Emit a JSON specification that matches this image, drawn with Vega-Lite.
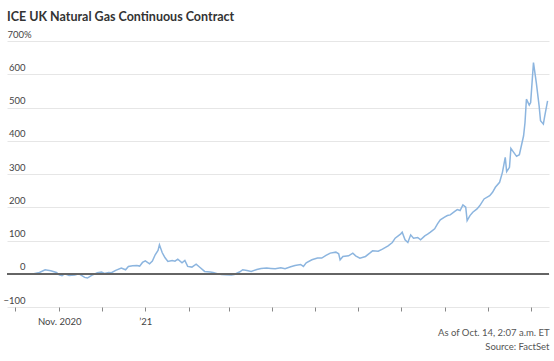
{
  "$schema": "https://vega.github.io/schema/vega-lite/v6.json",
  "autosize": {"type": "none"},
  "width": 542,
  "height": 266,
  "padding": {"left": 7, "top": 41, "right": 5, "bottom": 54},
  "background": "white",
  "config": {"font": "Lato", "view": {"stroke": null}, "axis": {"labelOverlap": false, "labelFlush": false}},
  "title": {"text": "ICE UK Natural Gas Continuous Contract", "anchor": "start", "frame": "group", "font": "Lato", "fontSize": 12.5, "fontWeight": "bold", "color": "#333333", "offset": 6},
  "data": {"values": [
    {"date": "2020-10-14", "pct": 0},
    {"date": "2020-10-18", "pct": 4},
    {"date": "2020-10-22", "pct": 12},
    {"date": "2020-10-26", "pct": 9},
    {"date": "2020-10-30", "pct": 4},
    {"date": "2020-11-01", "pct": -3},
    {"date": "2020-11-03", "pct": -6},
    {"date": "2020-11-05", "pct": 0},
    {"date": "2020-11-08", "pct": -5},
    {"date": "2020-11-12", "pct": -4},
    {"date": "2020-11-15", "pct": 0},
    {"date": "2020-11-19", "pct": -11},
    {"date": "2020-11-21", "pct": -13},
    {"date": "2020-11-24", "pct": -5},
    {"date": "2020-11-28", "pct": 3},
    {"date": "2020-12-01", "pct": 5},
    {"date": "2020-12-03", "pct": 1},
    {"date": "2020-12-06", "pct": 4},
    {"date": "2020-12-08", "pct": 3},
    {"date": "2020-12-11", "pct": 10},
    {"date": "2020-12-15", "pct": 17},
    {"date": "2020-12-18", "pct": 12},
    {"date": "2020-12-20", "pct": 22},
    {"date": "2020-12-23", "pct": 24},
    {"date": "2020-12-26", "pct": 25},
    {"date": "2020-12-28", "pct": 23},
    {"date": "2020-12-30", "pct": 34},
    {"date": "2021-01-01", "pct": 39},
    {"date": "2021-01-04", "pct": 30},
    {"date": "2021-01-06", "pct": 38},
    {"date": "2021-01-08", "pct": 57},
    {"date": "2021-01-10", "pct": 70},
    {"date": "2021-01-11", "pct": 87},
    {"date": "2021-01-13", "pct": 63},
    {"date": "2021-01-15", "pct": 48},
    {"date": "2021-01-17", "pct": 37},
    {"date": "2021-01-20", "pct": 40},
    {"date": "2021-01-22", "pct": 38},
    {"date": "2021-01-24", "pct": 44},
    {"date": "2021-01-27", "pct": 33},
    {"date": "2021-01-29", "pct": 40},
    {"date": "2021-01-31", "pct": 22},
    {"date": "2021-02-03", "pct": 20},
    {"date": "2021-02-06", "pct": 29},
    {"date": "2021-02-09", "pct": 18},
    {"date": "2021-02-12", "pct": 7},
    {"date": "2021-02-16", "pct": 5},
    {"date": "2021-02-18", "pct": 4},
    {"date": "2021-02-21", "pct": 0},
    {"date": "2021-02-24", "pct": -2},
    {"date": "2021-02-27", "pct": -3},
    {"date": "2021-03-03", "pct": -4},
    {"date": "2021-03-05", "pct": -2},
    {"date": "2021-03-09", "pct": 6},
    {"date": "2021-03-11", "pct": 12},
    {"date": "2021-03-14", "pct": 10},
    {"date": "2021-03-17", "pct": 7},
    {"date": "2021-03-21", "pct": 13},
    {"date": "2021-03-24", "pct": 16},
    {"date": "2021-03-28", "pct": 17},
    {"date": "2021-03-31", "pct": 16},
    {"date": "2021-04-03", "pct": 15},
    {"date": "2021-04-07", "pct": 18},
    {"date": "2021-04-10", "pct": 15},
    {"date": "2021-04-14", "pct": 21},
    {"date": "2021-04-17", "pct": 25},
    {"date": "2021-04-21", "pct": 28},
    {"date": "2021-04-23", "pct": 22},
    {"date": "2021-04-25", "pct": 33},
    {"date": "2021-04-29", "pct": 42},
    {"date": "2021-05-03", "pct": 47},
    {"date": "2021-05-06", "pct": 47},
    {"date": "2021-05-09", "pct": 55},
    {"date": "2021-05-12", "pct": 62},
    {"date": "2021-05-16", "pct": 65},
    {"date": "2021-05-18", "pct": 60},
    {"date": "2021-05-19", "pct": 42},
    {"date": "2021-05-21", "pct": 52},
    {"date": "2021-05-25", "pct": 54},
    {"date": "2021-05-28", "pct": 62},
    {"date": "2021-05-30", "pct": 54},
    {"date": "2021-06-02", "pct": 47},
    {"date": "2021-06-06", "pct": 52},
    {"date": "2021-06-09", "pct": 62},
    {"date": "2021-06-11", "pct": 69},
    {"date": "2021-06-15", "pct": 68},
    {"date": "2021-06-18", "pct": 74},
    {"date": "2021-06-22", "pct": 84},
    {"date": "2021-06-25", "pct": 94},
    {"date": "2021-06-27", "pct": 107},
    {"date": "2021-07-01", "pct": 120},
    {"date": "2021-07-02", "pct": 125},
    {"date": "2021-07-04", "pct": 102},
    {"date": "2021-07-06", "pct": 94},
    {"date": "2021-07-08", "pct": 117},
    {"date": "2021-07-10", "pct": 107},
    {"date": "2021-07-13", "pct": 109},
    {"date": "2021-07-15", "pct": 102},
    {"date": "2021-07-18", "pct": 114},
    {"date": "2021-07-20", "pct": 119},
    {"date": "2021-07-22", "pct": 125},
    {"date": "2021-07-25", "pct": 135},
    {"date": "2021-07-27", "pct": 150},
    {"date": "2021-07-29", "pct": 162},
    {"date": "2021-08-01", "pct": 170},
    {"date": "2021-08-03", "pct": 175},
    {"date": "2021-08-05", "pct": 177},
    {"date": "2021-08-08", "pct": 187},
    {"date": "2021-08-10", "pct": 193},
    {"date": "2021-08-12", "pct": 190},
    {"date": "2021-08-14", "pct": 207},
    {"date": "2021-08-16", "pct": 200},
    {"date": "2021-08-17", "pct": 160},
    {"date": "2021-08-19", "pct": 175},
    {"date": "2021-08-21", "pct": 185},
    {"date": "2021-08-24", "pct": 195},
    {"date": "2021-08-26", "pct": 205},
    {"date": "2021-08-29", "pct": 225},
    {"date": "2021-09-02", "pct": 235},
    {"date": "2021-09-04", "pct": 245},
    {"date": "2021-09-06", "pct": 260},
    {"date": "2021-09-09", "pct": 275},
    {"date": "2021-09-11", "pct": 305},
    {"date": "2021-09-13", "pct": 350},
    {"date": "2021-09-14", "pct": 307},
    {"date": "2021-09-16", "pct": 320},
    {"date": "2021-09-17", "pct": 377},
    {"date": "2021-09-19", "pct": 365},
    {"date": "2021-09-21", "pct": 353},
    {"date": "2021-09-23", "pct": 358},
    {"date": "2021-09-26", "pct": 415},
    {"date": "2021-09-27", "pct": 455},
    {"date": "2021-09-28", "pct": 525},
    {"date": "2021-09-30", "pct": 507},
    {"date": "2021-10-01", "pct": 515},
    {"date": "2021-10-03", "pct": 635},
    {"date": "2021-10-05", "pct": 575},
    {"date": "2021-10-07", "pct": 505},
    {"date": "2021-10-08", "pct": 460},
    {"date": "2021-10-10", "pct": 450},
    {"date": "2021-10-11", "pct": 475},
    {"date": "2021-10-13", "pct": 520}
  ]},
  "layer": [
    {
      "mark": {"type": "line", "color": "#8cb5df", "strokeWidth": 1.5, "interpolate": "linear"},
      "encoding": {
        "x": {
          "field": "date", "type": "temporal",
          "scale": {"type": "utc", "domain": ["2020-09-25", "2021-10-14"]},
          "axis": {
            "title": ["As of Oct. 14, 2:07 a.m. ET", "Source: FactSet"],
            "titleAnchor": "end", "titleAlign": "right", "titleBaseline": "top",
            "titleFont": "Lato", "titleFontSize": 9.5, "titleFontWeight": "normal", "titleColor": "#555555",
            "titleLineHeight": 14, "titlePadding": 2,
            "grid": false, "domain": false,
            "ticks": true, "tickSize": 4, "tickColor": "#888888", "tickWidth": 1,
            "tickCount": {"interval": "month", "step": 1},
            "labelExpr": "utcyear(datum.value) == 2020 && utcmonth(datum.value) == 10 ? 'Nov. 2020' : (utcyear(datum.value) == 2021 && utcmonth(datum.value) == 0 ? '\u201921' : '')",
            "labelFont": "Lato", "labelFontSize": 9.5, "labelColor": "#444444",
            "labelPadding": 5, "labelOverlap": false, "labelFlush": false
          }
        },
        "y": {
          "field": "pct", "type": "quantitative",
          "scale": {"domain": [-100, 700], "nice": false, "zero": false},
          "axis": {
            "title": null,
            "tickCount": 8,
            "labelExpr": "datum.value == 700 ? '700%' : format(datum.value, 'd')",
            "grid": true, "gridColor": "#e6e6e6", "gridWidth": 1,
            "domain": false, "ticks": false, "tickSize": 0,
            "labelAlign": {"condition": {"test": "datum.value == 700", "value": "left"}, "value": "right"},
            "labelPadding": {"condition": {"test": "datum.value == 700", "value": 0}, "value": -18},
            "labelBaseline": "bottom", "labelOffset": -2, "labelOverlap": false, "labelFlush": false, "labelBound": false,
            "labelFont": "Lato", "labelFontSize": 9.5, "labelColor": "#444444"
          }
        }
      }
    },
    {
      "mark": {"type": "rule", "color": "#666666", "strokeWidth": 1},
      "encoding": {"y": {"datum": 0, "type": "quantitative"}}
    }
  ]
}
